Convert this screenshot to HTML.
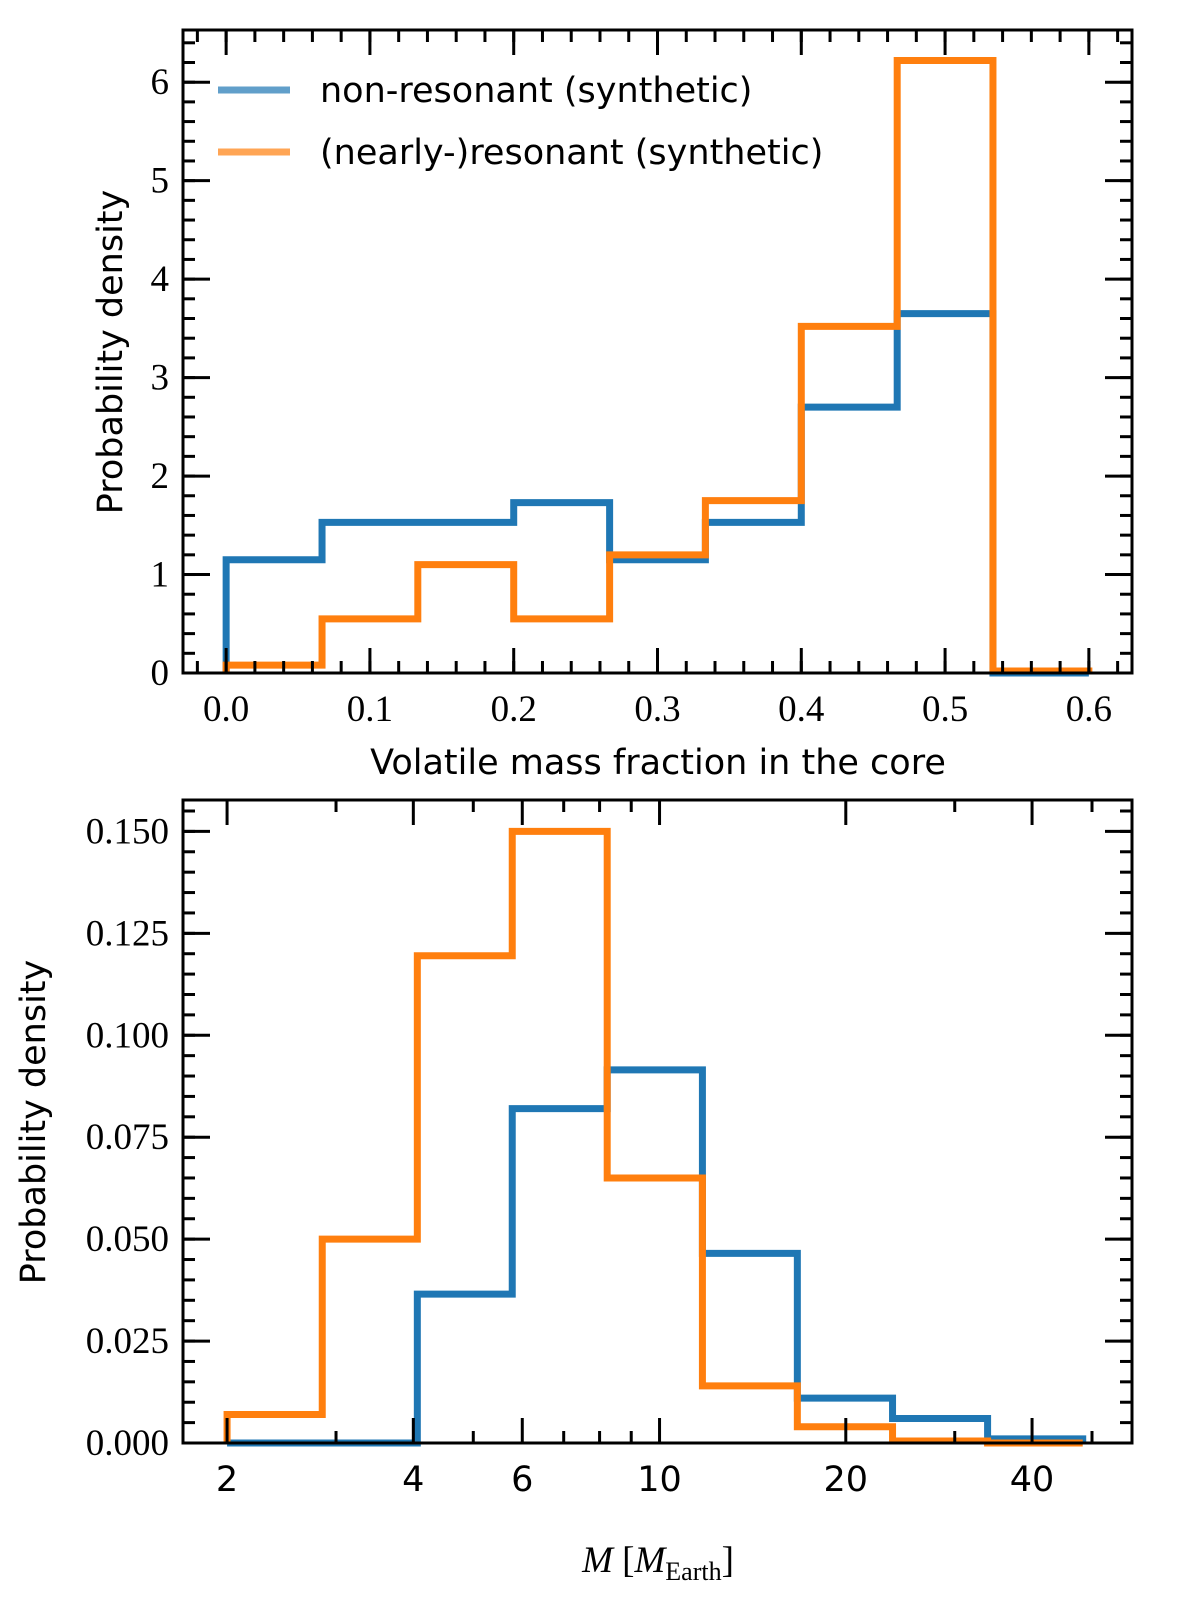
<!DOCTYPE html>
<html><head><meta charset="utf-8"><style>
body{margin:0;background:#fff}
svg{display:block}
.tk{font-family:"Liberation Serif",serif;font-size:37px;fill:#000}
.lb{font-family:"DejaVu Sans","Liberation Sans",sans-serif;font-size:35px;fill:#000}
</style></head><body>
<svg id="c" width="1200" height="1619" viewBox="0 0 1200 1619" xmlns="http://www.w3.org/2000/svg"></svg>
<script>
const topEdges=[0,0.0667,0.1333,0.2,0.2667,0.3333,0.4,0.4667,0.5333,0.6];
const topBlue=[1.15,1.53,1.53,1.73,1.15,1.53,2.7,3.65,0];
const topOrange=[0.08,0.55,1.1,0.55,1.2,1.75,3.52,6.22,0.02];
const topXTicks=[0,0.1,0.2,0.3,0.4,0.5,0.6];
const topYTicks=[0,1,2,3,4,5,6];
const botEdges=[2,2.85,4.06,5.78,8.23,11.73,16.7,23.8,33.9,48.3];
const botBlue=[0,0,0.0365,0.082,0.0915,0.0465,0.011,0.006,0.001];
const botOrange=[0.007,0.050,0.1195,0.150,0.065,0.014,0.004,0.0005,0];
const botXTicks=[2,4,6,10,20,40];
const botXMinor=[3,5,7,8,9,30,50];
const botYTicks=[0,0.025,0.05,0.075,0.1,0.125,0.15];
const NS="http://www.w3.org/2000/svg",svg=document.getElementById('c');
function el(t,a,p){const e=document.createElementNS(NS,t);for(const k in a)e.setAttribute(k,a[k]);(p||svg).appendChild(e);return e;}
function txt(x,y,s,cls,anchor,rot){const e=el('text',{x:x,y:y,class:cls,'text-anchor':anchor||'middle'});if(rot)e.setAttribute('transform',`rotate(-90 ${x} ${y})`);e.textContent=s;return e;}
const L=183,R=1132;
function panel(o){
 const g=el('g',{});
 
 
 const T=o.T,B=o.B;
 const sy=v=>B-(v-o.y0)/(o.y1-o.y0)*(B-T);
 const sx=v=>L+(o.f(v)-o.f(o.x0))/(o.f(o.x1)-o.f(o.x0))*(R-L);
 function step(vals,col,nm){let d=`M${sx(o.edges[0])},${sy(0)}`;vals.forEach((v,i)=>{d+=` L${sx(o.edges[i])},${sy(v)} L${sx(o.edges[i+1])},${sy(v)}`;});d+=` L${sx(o.edges[vals.length])},${sy(0)}`;
  const p=el('path',{d:d,fill:'none',stroke:col,'stroke-width':7,'stroke-linejoin':'miter'},g);
  
  }
 step(o.blue,'#1f77b4',o.name+'-nonresonant');
 step(o.orange,'#ff7f0e',o.name+'-resonant');
 const ax=el('g',{stroke:'#000','stroke-width':3},g);
 o.xt.forEach(v=>{const x=sx(v);el('line',{x1:x,x2:x,y1:B,y2:B-25},ax);el('line',{x1:x,x2:x,y1:T,y2:T+25},ax);
  const t=txt(x,B+48,o.xl(v),o.xcls||'tk');});
 o.xm.forEach(v=>{const x=sx(v);if(x<L||x>R)return;el('line',{x1:x,x2:x,y1:B,y2:B-12},ax);el('line',{x1:x,x2:x,y1:T,y2:T+12},ax);});
 o.yt.forEach(v=>{const y=sy(v);el('line',{x1:L,x2:L+27,y1:y,y2:y},ax);el('line',{x1:R,x2:R-27,y1:y,y2:y},ax);
  const t=txt(L-14,y+12,o.yl(v),'tk','end');});
 o.ym.forEach(v=>{const y=sy(v);if(y<T)return;el('line',{x1:L,x2:L+12,y1:y,y2:y},ax);el('line',{x1:R,x2:R-12,y1:y,y2:y},ax);});
 const fr=el('rect',{x:L,y:T,width:R-L,height:B-T,fill:'none',stroke:'#000','stroke-width':3},g);
 
}
const xm1=[];for(let i=-1;i<=31;i++)xm1.push(i*0.02);
const ym1=[];for(let i=0;i<=33;i++)ym1.push(i*0.2);
panel({name:'top-panel',T:30,B:673,x0:-0.03,x1:0.63,y0:0,y1:6.53,f:v=>v,edges:topEdges,blue:topBlue,orange:topOrange,
 xt:topXTicks,xm:xm1,xl:v=>v.toFixed(1),yt:topYTicks,ym:ym1,yl:v=>String(v)});
const ym2=[];for(let i=0;i<=31;i++)ym2.push(i*0.005);
panel({name:'bottom-panel',T:800,B:1443,x0:Math.pow(10,0.2298),x1:Math.pow(10,1.7636),y0:0,y1:0.1577,f:v=>Math.log10(v),edges:botEdges,blue:botBlue,orange:botOrange,
 xt:botXTicks,xm:botXMinor,xl:v=>String(v),xcls:'lb',yt:botYTicks,ym:ym2,yl:v=>v.toFixed(3)});
let t;
t=txt(658,774,'Volatile mass fraction in the core','lb');
t=txt(122,352,'Probability density','lb','middle',true);
t=txt(45,1122,'Probability density','lb','middle',true);
const xt=el('text',{x:658,y:1572,'text-anchor':'middle',class:'tk','font-style':'italic'});

xt.innerHTML='M <tspan font-style="normal">[</tspan>M<tspan font-style="normal" font-size="26" dy="8">Earth</tspan><tspan font-style="normal" dy="-8">]</tspan>';
const lg=el('g',{});
[['#1f77b4','non-resonant (synthetic)',90],['#ff7f0e','(nearly-)resonant (synthetic)',152]].forEach(([c,s,y],i)=>{
 const e=el('line',{x1:218,x2:290,y1:y,y2:y,stroke:c,'stroke-width':7,opacity:0.7},lg);
 
 const tt=txt(320,y+12,s,'lb','start');lg.appendChild(tt);
});
</script>
</body></html>
